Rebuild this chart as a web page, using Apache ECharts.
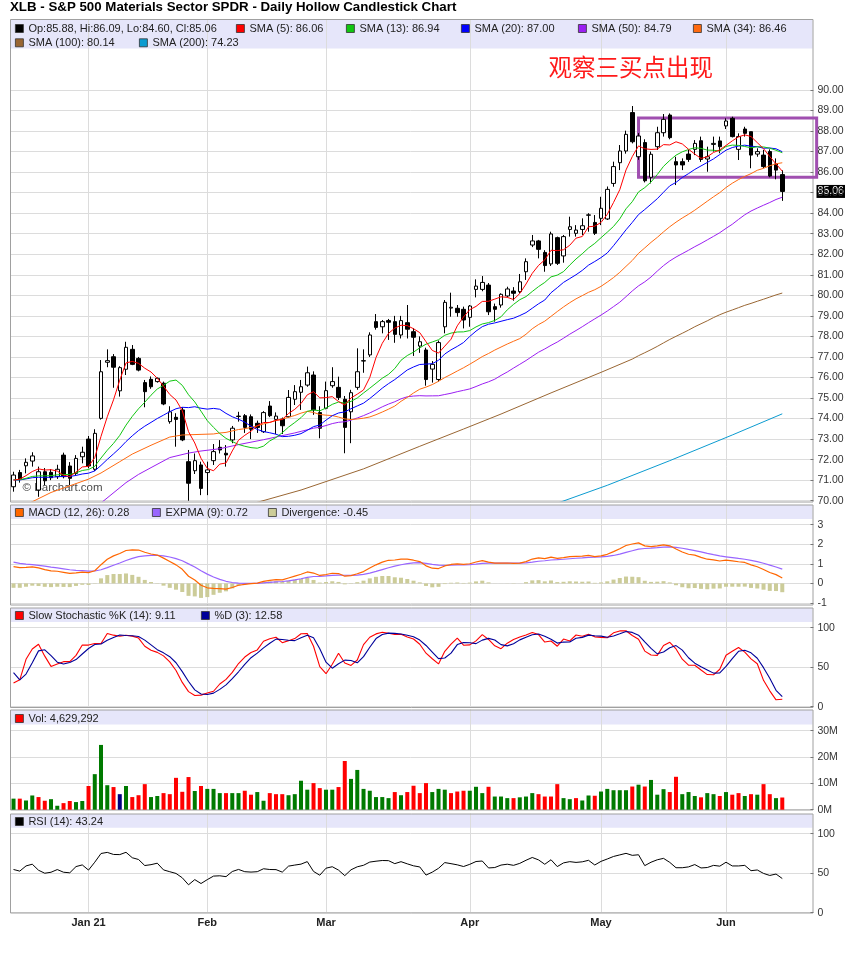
<!DOCTYPE html>
<html><head><meta charset="utf-8">
<script src="https://cdn.jsdelivr.net/npm/echarts@6.0.0/dist/echarts.min.js"></script>
<style>html,body{margin:0;padding:0;background:#fff}#c{width:855px;height:954px}</style>
</head><body><div id="c"></div>
<script>
// ---------------- DATA ----------------
const dates = [
 '2020-12-15','2020-12-16','2020-12-17','2020-12-18','2020-12-21','2020-12-22','2020-12-23','2020-12-24','2020-12-28','2020-12-29','2020-12-30','2020-12-31',
 '2021-01-04','2021-01-05','2021-01-06','2021-01-07','2021-01-08','2021-01-11','2021-01-12','2021-01-13','2021-01-14','2021-01-15','2021-01-19','2021-01-20','2021-01-21','2021-01-22','2021-01-25','2021-01-26','2021-01-27','2021-01-28','2021-01-29',
 '2021-02-01','2021-02-02','2021-02-03','2021-02-04','2021-02-05','2021-02-08','2021-02-09','2021-02-10','2021-02-11','2021-02-12','2021-02-16','2021-02-17','2021-02-18','2021-02-19','2021-02-22','2021-02-23','2021-02-24','2021-02-25','2021-02-26',
 '2021-03-01','2021-03-02','2021-03-03','2021-03-04','2021-03-05','2021-03-08','2021-03-09','2021-03-10','2021-03-11','2021-03-12','2021-03-15','2021-03-16','2021-03-17','2021-03-18','2021-03-19','2021-03-22','2021-03-23','2021-03-24','2021-03-25','2021-03-26','2021-03-29','2021-03-30','2021-03-31',
 '2021-04-01','2021-04-05','2021-04-06','2021-04-07','2021-04-08','2021-04-09','2021-04-12','2021-04-13','2021-04-14','2021-04-15','2021-04-16','2021-04-19','2021-04-20','2021-04-21','2021-04-22','2021-04-23','2021-04-26','2021-04-27','2021-04-28','2021-04-29','2021-04-30',
 '2021-05-03','2021-05-04','2021-05-05','2021-05-06','2021-05-07','2021-05-10','2021-05-11','2021-05-12','2021-05-13','2021-05-14','2021-05-17','2021-05-18','2021-05-19','2021-05-20','2021-05-21','2021-05-24','2021-05-25','2021-05-26','2021-05-27','2021-05-28',
 '2021-06-01','2021-06-02','2021-06-03','2021-06-04','2021-06-07','2021-06-08','2021-06-09','2021-06-10','2021-06-11','2021-06-14'];
const monthLabels = ['Jan 21','Feb','Mar','Apr','May','Jun'];

const opens = [70.68,71.37,71.70,71.93,70.52,71.41,71.38,71.17,72.22,71.69,
 71.33,72.14,73.00,71.53,74.01,76.74,77.01,75.35,76.40,77.37,
 76.93,75.75,75.91,75.80,75.72,73.85,74.06,74.42,71.90,71.46,
 71.74,71.37,71.95,72.60,72.31,72.96,74.10,74.14,74.09,73.77,
 73.36,74.61,73.96,73.98,74.09,74.94,75.28,75.63,76.12,74.29,
 74.50,75.60,75.52,74.94,74.33,75.52,76.80,77.10,78.72,78.47,
 78.77,78.72,78.07,78.67,78.23,77.53,77.34,76.41,75.90,78.47,
 79.38,79.37,79.32,78.93,80.29,80.29,80.50,79.45,79.53,79.97,
 80.21,80.18,81.15,82.45,82.65,82.09,81.53,82.81,81.92,83.21,
 83.02,83.21,83.90,83.55,83.75,83.72,85.45,86.46,87.03,88.90,
 86.75,87.44,85.75,87.24,87.92,88.78,86.51,86.51,86.88,87.11,
 87.53,86.64,87.35,87.52,88.25,88.62,87.11,88.10,87.97,86.88,
 86.83,87.00,86.40,85.88];
const highs = [71.41,71.50,72.06,72.36,71.66,71.59,71.54,71.75,72.34,71.88,
 72.22,72.63,73.15,73.48,76.85,77.37,77.14,76.55,77.74,77.58,
 77.00,75.88,76.05,76.00,75.80,74.60,74.26,74.55,72.47,72.30,
 71.90,71.90,72.76,72.95,72.71,73.64,74.33,74.22,74.20,73.90,
 74.36,74.85,74.30,74.05,75.39,75.63,75.88,76.53,76.30,74.60,
 75.80,76.50,76.04,75.10,75.40,77.42,77.37,78.20,79.09,78.80,
 78.85,79.00,79.00,79.53,78.40,78.00,77.45,76.80,77.80,79.77,
 80.13,79.53,79.45,79.53,80.78,80.94,80.60,79.60,80.10,80.42,
 80.40,81.04,81.80,82.94,82.70,82.20,83.10,82.86,82.94,83.83,
 83.42,83.75,84.00,83.91,84.80,85.30,86.51,87.32,88.02,89.22,
 87.90,87.60,87.00,88.21,88.83,88.86,86.75,86.67,87.08,87.56,
 87.73,87.24,87.73,87.73,88.62,88.70,87.89,88.21,87.97,87.16,
 87.08,87.11,86.67,86.09];
const lows = [70.44,70.88,71.33,71.66,70.19,70.76,71.00,71.06,71.09,70.76,
 71.25,71.82,71.58,71.45,73.95,76.50,75.50,75.07,76.12,76.60,
 76.30,74.55,75.45,75.75,74.65,73.75,72.63,72.90,70.00,71.30,
 70.27,70.27,71.74,72.30,71.66,72.80,73.85,73.30,73.00,73.30,
 73.30,74.07,73.25,73.25,74.05,74.66,74.42,75.55,74.18,73.04,
 74.45,75.50,74.90,72.31,72.80,75.40,76.23,77.00,78.33,78.15,
 77.83,77.69,77.90,77.90,77.05,77.20,75.60,75.75,75.80,78.15,
 78.96,78.96,78.39,78.47,79.90,80.20,79.04,78.72,79.40,79.90,
 79.74,80.10,80.75,82.35,81.80,81.15,81.43,81.48,81.59,82.86,
 82.86,82.94,83.10,82.94,83.42,83.67,85.29,86.10,86.90,87.40,
 86.60,85.50,85.45,87.08,87.73,87.60,85.37,86.10,86.50,86.83,
 86.50,86.02,87.00,86.92,88.10,87.69,86.59,87.73,86.19,86.75,
 86.19,85.75,85.65,84.60];
const closes = [71.25,71.04,71.87,72.18,71.41,70.97,71.12,71.53,71.17,71.09,
 72.06,72.36,71.69,73.28,76.28,76.82,76.50,76.48,77.47,76.64,
 76.36,75.31,75.55,75.96,74.71,74.33,73.96,72.96,70.85,71.95,
 70.60,71.50,72.39,72.47,72.23,73.53,74.12,73.57,73.48,73.57,
 74.29,74.14,74.12,73.65,75.03,75.31,75.55,76.23,74.42,73.53,
 75.36,75.80,75.03,73.57,75.26,76.28,76.82,78.07,78.44,78.72,
 78.69,78.10,78.77,78.35,77.96,77.74,75.90,76.64,77.70,79.66,
 79.42,79.16,78.80,79.48,80.45,80.63,79.20,79.32,80.05,80.31,
 80.10,80.66,81.64,82.65,82.24,81.45,82.99,81.56,82.86,83.34,
 83.18,83.39,83.92,83.02,84.24,85.16,86.27,87.03,87.84,87.48,
 87.76,85.58,86.87,87.92,88.57,87.68,86.35,86.35,86.62,87.40,
 86.62,86.75,87.40,87.24,88.49,87.73,87.73,87.89,86.83,87.00,
 86.27,85.81,86.10,85.06];
// volume in millions of shares; direction 1 = up (green), -1 = down (red), 0 = unchanged (navy)
const volumes = [4.2,4.2,3.5,5.4,4.8,3.4,4.0,1.5,2.5,3.3,
 2.9,3.3,9.0,13.5,24.6,9.3,8.6,5.9,9.0,4.8,
 5.5,9.7,4.8,5.2,6.3,5.9,12.1,6.8,12.4,7.1,
 9.0,7.9,7.9,6.3,6.3,6.3,6.3,7.2,5.7,6.7,
 3.4,6.3,5.9,5.9,5.5,5.9,11.0,7.6,10.1,8.2,
 7.6,7.6,8.6,18.5,11.7,15.1,7.9,7.2,4.8,4.8,
 4.4,6.7,5.5,6.7,9.1,6.3,10.1,6.7,7.9,7.6,
 6.3,6.9,7.2,7.2,8.7,6.3,8.7,5.0,5.0,4.4,
 4.4,4.7,5.0,6.3,5.9,5.0,5.0,9.7,4.4,4.0,
 4.4,3.5,5.4,5.3,6.9,7.9,7.4,7.4,7.4,8.8,
 9.5,8.8,11.3,5.7,7.8,6.7,12.5,5.9,6.7,5.2,
 4.7,6.3,5.9,5.2,6.7,5.7,6.3,5.2,5.9,5.7,
 9.7,5.9,4.4,4.63];
const volDir = [1,-1,1,1,-1,-1,1,1,-1,-1,
 1,1,-1,1,1,1,-1,0,1,-1,
 -1,-1,1,1,-1,-1,-1,-1,-1,1,
 -1,1,1,1,-1,1,1,-1,-1,1,
 1,-1,-1,-1,1,1,1,1,-1,-1,
 1,1,-1,-1,1,1,1,1,1,1,
 1,-1,1,-1,-1,-1,-1,1,1,1,
 -1,-1,-1,1,1,1,-1,1,1,1,
 -1,1,1,1,-1,-1,-1,-1,1,1,
 -1,1,1,-1,1,1,1,1,1,-1,
 1,-1,1,1,1,-1,-1,1,1,1,
 -1,1,1,-1,1,-1,-1,1,-1,1,
 -1,-1,1,-1];

// moving-average values read at the left edge (before each window fills), as [index, value]
const sma5Lead  = [[0,71.00],[1,71.05],[2,71.22],[3,71.42]];
const sma13Lead = [[0,71.02],[1,71.02],[2,71.09],[3,71.18],[4,71.21],[5,71.21],[6,71.22],[7,71.26],[8,71.27],[9,71.28],[10,71.36],[11,71.47]];
const sma20Lead = [[0,71.01],[1,71.01],[2,71.06],[3,71.12],[4,71.14],[5,71.14],[6,71.14],[7,71.17],[8,71.18],[9,71.18],[10,71.23],[11,71.30],[12,71.34],[13,71.45],[14,71.72],[15,72.01],[16,72.28],[17,72.56],[18,72.88]];
const sma34Lead = [[0,69.50],[2,69.80],[6,70.40],[12,71.05],[14,71.35],[17,71.90],[19,72.27],[22,72.70],[25,73.10],[27,73.20],[30,73.23],[32,73.25]];
const sma50Lead = [[0,68.36],[5,68.85],[10,69.38],[14,69.89],[18,70.88],[20,71.28],[22,71.61],[25,72.10],[28,72.32],[30,72.42],[33,72.53],[36,72.73],[40,72.97],[45,73.30],[48,73.53]];
const sma100Lead = [[30,69.15],[39,69.92],[46,70.52],[56,71.55],[65,72.65],[72,73.49],[78,74.22],[86,75.25],[94,76.25]];
const sma200Pts  = [[84,69.55],[95,70.75],[105,71.95],[115,73.20],[123,74.23]];
// indicator states at the left edge
const macdSeed = {ema12: 70.90, ema26: 70.00, signal: 1.14};
const rsiSeed = {prevClose: 71.10, avgGain: 0.23, avgLoss: 0.20};
const stochKLead = [30,34,60,73,79,64,51,54,57,57,65,78,78,80,80];
const stochDLead = [43,34];

const legendText = {
  ohlc: 'Op:85.88, Hi:86.09, Lo:84.60, Cl:85.06',
  sma5: 'SMA (5): 86.06', sma13: 'SMA (13): 86.94', sma20: 'SMA (20): 87.00', sma50: 'SMA (50): 84.79',
  sma34: 'SMA (34): 86.46', sma100: 'SMA (100): 80.14', sma200: 'SMA (200): 74.23',
  macd: 'MACD (12, 26): 0.28', signal: 'EXPMA (9): 0.72', div: 'Divergence: -0.45',
  k: 'Slow Stochastic %K (14): 9.11', d: '%D (3): 12.58', vol: 'Vol: 4,629,292', rsi: 'RSI (14): 43.24'
};
const titleText = 'XLB - S&P 500 Materials Sector SPDR - Daily Hollow Candlestick Chart';
const noteText = '观察三买点出现';
const boxRange = {fromIndex: 100, top: 88.64, bottom: 85.75};
const noteAnchor = {index: 85.6, price: 91.1};

// ---------------- DERIVED SERIES ----------------
const N = closes.length;
function smaPairs(n, lead) {
  const out = lead.slice();
  for (let i = n - 1; i < N; i++) { let s = 0; for (let j = i - n + 1; j <= i; j++) s += closes[j]; out.push([i, +(s / n).toFixed(3)]); }
  return out;
}
const sma5 = smaPairs(5, sma5Lead), sma13 = smaPairs(13, sma13Lead), sma20 = smaPairs(20, sma20Lead),
      sma34 = smaPairs(34, sma34Lead), sma50 = smaPairs(50, sma50Lead), sma100 = smaPairs(100, sma100Lead);
let e12 = macdSeed.ema12, e26 = macdSeed.ema26, sg = macdSeed.signal;
const macd = [], sig = [], divg = [];
closes.forEach(c => { e12 += (c - e12) * 2 / 13; e26 += (c - e26) * 2 / 27; const m = e12 - e26; sg += (m - sg) * 0.2; macd.push(+m.toFixed(4)); sig.push(+sg.toFixed(4)); divg.push(+(m - sg).toFixed(4)); });
const fastK = closes.map((c, i) => { if (i < 13) return null; let hh = -Infinity, ll = Infinity; for (let j = i - 13; j <= i; j++) { hh = Math.max(hh, highs[j]); ll = Math.min(ll, lows[j]); } return 100 * (c - ll) / (hh - ll); });
const slowK = closes.map((c, i) => i < 15 ? stochKLead[i] : +((fastK[i - 2] + fastK[i - 1] + fastK[i]) / 3).toFixed(2));
const pctD = slowK.map((k, i) => i < 2 ? stochDLead[i] : +((slowK[i - 2] + slowK[i - 1] + k) / 3).toFixed(2));
let ag = rsiSeed.avgGain, al = rsiSeed.avgLoss, pc = rsiSeed.prevClose;
const rsi = closes.map(c => { const ch = c - pc; pc = c; ag = (ag * 13 + Math.max(ch, 0)) / 14; al = (al * 13 + Math.max(-ch, 0)) / 14; return +(100 - 100 / (1 + ag / al)).toFixed(2); });

const monthStarts = [];
dates.forEach((d, i) => { if (i > 0 && d.slice(0, 7) !== dates[i - 1].slice(0, 7)) monthStarts.push(i); });
const cats = dates.concat(['pad1', 'pad2', 'pad3', 'pad4']);

// ---------------- LAYOUT / STYLE ----------------
const FONT = "'Liberation Sans', Arial, sans-serif";
const GL = 10.4, GW = 800;
const panels = [
  {top: 19.5, bottom: 502, head: 29},
  {top: 505, bottom: 605, head: 14},
  {top: 608, bottom: 707.5, head: 14},
  {top: 710, bottom: 810, head: 14.5},
  {top: 814, bottom: 913, head: 13.7}
];
const plotY = [[90, 500.7], [524.7, 603], [627.7, 706.7], [730.7, 809.7], [833.7, 912.7]];
const C = {sma5:'#ff0000', sma13:'#11c611', sma20:'#0000ff', sma50:'#9b1ff2', sma34:'#ff6a10', sma100:'#996633', sma200:'#0b9bd0',
  macd:'#ff6600', signal:'#9966ff', div:'#cccc99', k:'#ff0000', d:'#000099', up:'#007a00', down:'#ff0000', flat:'#000080', rsi:'#000000', box:'#a04fb0'};

const grids = [{left: GL, width: GW, top: 19.5, height: 913 - 19.5}];
plotY.forEach(p => grids.push({left: GL, width: GW, top: p[0], height: p[1] - p[0]}));
panels.forEach(p => grids.push({left: 10.5, width: 802, top: p.top, height: p.head, show: true, backgroundColor: '#e6e6fa', borderWidth: 0}));
grids.forEach(g => { g.outerBoundsMode = 'none'; });

const isMonth = (i) => monthStarts.indexOf(i) >= 0;
const xAxes = [{
  type: 'category', gridIndex: 0, data: cats, boundaryGap: true,
  axisLine: {show: false}, axisTick: {show: false},
  axisLabel: {interval: (i) => isMonth(i), formatter: (v, i) => monthLabels[monthStarts.indexOf(i)] || '', fontFamily: FONT, fontWeight: 'bold', fontSize: 11, color: '#222', margin: 4},
  splitLine: {show: true, interval: (i) => isMonth(i), alignWithLabel: true, lineStyle: {color: '#dcdcdc', width: 1}}
}];
for (let g = 1; g <= 5; g++) xAxes.push({type: 'category', gridIndex: g, data: cats, boundaryGap: true,
  axisLine: {show: false}, axisTick: {show: false}, axisLabel: {show: false}, splitLine: {show: false}});

function yAx(g, min, max, interval, fmt) {
  return {type: 'value', gridIndex: g, position: 'right', min, max, interval,
    axisLine: {show: false}, axisTick: {show: true, inside: false, length: 3, lineStyle: {color: '#777'}},
    axisLabel: {fontFamily: FONT, fontSize: 10.5, color: '#333', margin: 7, formatter: fmt},
    splitLine: {show: true, lineStyle: {color: '#dcdcdc', width: 1}}};
}
const yAxes = [
  {type: 'value', gridIndex: 0, show: false, splitLine: {show: false}},
  yAx(1, 70, 90, 1, v => v.toFixed(2)),
  yAx(2, -1, 3, 1, v => String(v)),
  yAx(3, 0, 100, 50, v => String(v)),
  yAx(4, 0, 30, 10, v => v + 'M'),
  yAx(5, 0, 100, 50, v => String(v))
];

function line(name, data, color, g, w) {
  return {type: 'line', name, data, xAxisIndex: g, yAxisIndex: g, showSymbol: false, symbol: 'none',
    lineStyle: {color, width: w || 1}, itemStyle: {color}, connectNulls: true, silent: true, animation: false};
}
const series = [
  {type: 'candlestick', name: legendText.ohlc, xAxisIndex: 1, yAxisIndex: 1, barWidth: 4,
    data: opens.map((o, i) => [o, closes[i], lows[i], highs[i]]),
    itemStyle: {color: '#ffffff', color0: '#000000', borderColor: '#000000', borderColor0: '#000000', borderColorDoji: '#000000', borderWidth: 1}},
  line(legendText.sma200, sma200Pts, C.sma200, 1),
  line(legendText.sma100, sma100, C.sma100, 1),
  line(legendText.sma50, sma50, C.sma50, 1),
  line(legendText.sma34, sma34, C.sma34, 1),
  line(legendText.sma20, sma20, C.sma20, 1),
  line(legendText.sma13, sma13, C.sma13, 1),
  line(legendText.sma5, sma5, C.sma5, 1),
  {type: 'bar', name: legendText.div, xAxisIndex: 2, yAxisIndex: 2, barWidth: 4, data: divg, itemStyle: {color: C.div}},
  line(legendText.signal, sig, C.signal, 2, 1.2),
  line(legendText.macd, macd, C.macd, 2, 1.2),
  line(legendText.k, slowK, C.k, 3, 1.1),
  line(legendText.d, pctD, C.d, 3, 1.1),
  {type: 'bar', name: legendText.vol, xAxisIndex: 4, yAxisIndex: 4, barWidth: 4,
    data: volumes.map((v, i) => ({value: v, itemStyle: {color: volDir[i] > 0 ? C.up : (volDir[i] < 0 ? C.down : C.flat)}}))},
  line(legendText.rsi, rsi, C.rsi, 5, 1)
];

function lg(name, left, top, color) {
  return {data: [{name, icon: 'rect', itemStyle: {color, borderColor: '#333', borderWidth: 0.8}}], left, top, padding: 0,
    itemWidth: 8, itemHeight: 8, itemGap: 0, selectedMode: false,
    textStyle: {fontFamily: FONT, fontSize: 11, color: '#222', lineHeight: 13}};
}
const legends = [
  lg(legendText.ohlc, 15, 22, '#000'), lg(legendText.sma5, 236, 22, C.sma5), lg(legendText.sma13, 346, 22, C.sma13),
  lg(legendText.sma20, 461, 22, C.sma20), lg(legendText.sma50, 578, 22, C.sma50), lg(legendText.sma34, 693, 22, C.sma34),
  lg(legendText.sma100, 15, 36.3, C.sma100), lg(legendText.sma200, 139, 36.3, C.sma200),
  lg(legendText.macd, 15, 506, C.macd), lg(legendText.signal, 152, 506, C.signal), lg(legendText.div, 268, 506, C.div),
  lg(legendText.k, 15, 609, C.k), lg(legendText.d, 201, 609, C.d),
  lg(legendText.vol, 15, 712, C.down), lg(legendText.rsi, 15, 815, '#000')
];

const option = {
  animation: false, backgroundColor: '#ffffff',
  title: {text: titleText, left: 10, top: 1, padding: 0, textStyle: {fontFamily: FONT, fontWeight: 'bold', fontSize: 13.3, color: '#000'}},
  legend: legends, grid: grids, xAxis: xAxes, yAxis: yAxes, series
};
const chart = echarts.init(document.getElementById('c'), null, {renderer: 'canvas', width: 855, height: 954});
chart.setOption(option);

// ---------------- ANNOTATIONS placed through the chart's own scales ----------------
const px = (i, v) => chart.convertToPixel({xAxisIndex: 1, yAxisIndex: 1}, [i, v]);
const slot = px(1, 80)[0] - px(0, 80)[0];
const bTL = px(boxRange.fromIndex, boxRange.top), bBR = px(N - 1, boxRange.bottom);
const boxRight = bBR[0] + 5.5 * slot;
const lastY = px(N - 1, closes[N - 1])[1];
const note = px(Math.floor(noteAnchor.index), noteAnchor.price);
const noteX = note[0] + (noteAnchor.index - Math.floor(noteAnchor.index)) * slot;
const gfx = [];
for (let k = 0; k < panels.length - 1; k++) gfx.push({type: 'rect', silent: true, shape: {x: 8, y: panels[k].bottom + 0.5, width: 806, height: panels[k + 1].top - panels[k].bottom - 1}, style: {fill: '#fff'}});
panels.forEach(p => gfx.push({type: 'rect', silent: true, shape: {x: 10.5, y: p.top, width: 802.5, height: p.bottom - p.top}, style: {fill: 'none', stroke: '#a0a0a0', lineWidth: 1}}));
gfx.push({type: 'rect', silent: true, shape: {x: bTL[0], y: bTL[1], width: boxRight - bTL[0], height: bBR[1] - bTL[1]}, style: {fill: 'none', stroke: C.box, lineWidth: 3}});
gfx.push({type: 'text', silent: true, x: noteX, y: note[1], style: {text: noteText, fill: '#ff1a1a', font: "23.5px 'Noto Sans CJK SC'", verticalAlign: 'middle'}});
gfx.push({type: 'rect', silent: true, shape: {x: 816.5, y: lastY - 6.5, width: 28.5, height: 13}, style: {fill: '#000'}});
gfx.push({type: 'text', silent: true, x: 830.7, y: lastY, style: {text: closes[N - 1].toFixed(2), fill: '#ffffff', font: "10.5px 'Liberation Sans'", align: 'center', verticalAlign: 'middle'}});
gfx.push({type: 'text', silent: true, x: 22.5, y: 487.5, style: {text: '© Barchart.com', fill: '#4a4a4a', font: "11.5px 'Liberation Sans'", verticalAlign: 'middle', stroke: '#ffffff', lineWidth: 2.5}});
chart.setOption({graphic: {z: 10, elements: gfx}});
</script>
</body></html>
